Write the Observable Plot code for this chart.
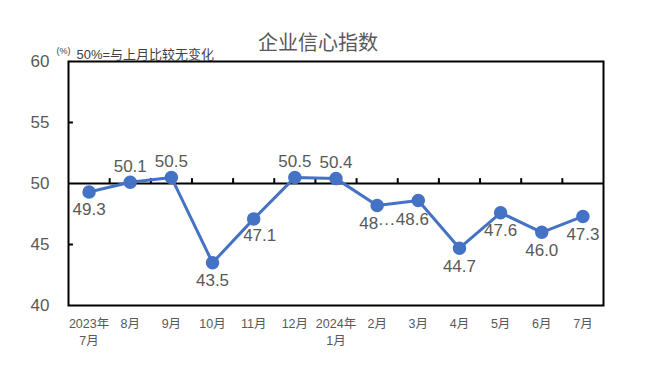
<!DOCTYPE html>
<html>
<head>
<meta charset="utf-8">
<script src="https://cdn.jsdelivr.net/npm/d3@7"></script>
<script src="https://cdn.jsdelivr.net/npm/@observablehq/plot@0.6"></script>
<style>
  html, body { margin: 0; padding: 0; background: #fff; }
</style>
</head>
<body>
<div id="chart"></div>
<script>
const months = ["2023年\n7月", "8月", "9月", "10月", "11月", "12月", "2024年\n1月", "2月", "3月", "4月", "5月", "6月", "7月"];
const values = [49.3, 50.1, 50.5, 43.5, 47.1, 50.5, 50.4, 48.2, 48.6, 44.7, 47.6, 46.0, 47.3];
const labels = ["49.3", "50.1", "50.5", "43.5", "47.1", "50.5", "50.4", "48···", "48.6", "44.7", "47.6", "46.0", "47.3"];
const labelSide = ["below", "above", "above", "below", "below-right", "above", "above", "below", "below-left", "below", "below", "below", "below"];
const yTicks = [40, 45, 50, 55, 60];
const title = "企业信心指数";
const unit = "(%)";
const note = "50%=与上月比较无变化";

const data = values.map((v, i) => ({i, v, label: labels[i], side: labelSide[i]}));
const boundaries = d3.range(0.5, months.length - 1, 1);

const gray = "#595959";
const blue = "#4472C4";
const font = "'Liberation Sans', 'Noto Sans CJK SC', sans-serif";

const bySide = s => data.filter(d => d.side === s);

const labelOpts = {x: "i", y: "v", text: "label", fontSize: 17, fill: gray};

const chart = Plot.plot({
  width: 666,
  height: 365,
  marginLeft: 68,
  marginRight: 63,
  marginTop: 61,
  marginBottom: 60,
  style: {fontFamily: font, background: "#fff", overflow: "visible"},
  x: {type: "linear", domain: [-0.5, months.length - 0.5]},
  y: {domain: [40, 60]},
  marks: [
    Plot.axisX(d3.range(months.length), {
      tickSize: 0, tickPadding: 10, tickFormat: i => months[i],
      fontSize: 12.5, fill: gray, lineHeight: 1.4, label: null
    }),
    Plot.axisY(yTicks, {
      tickSize: 0, tickPadding: 19, fontSize: 17, fill: gray, label: null
    }),
    Plot.ruleY([45, 55], {x1: -0.5, x2: -0.38, stroke: "black", strokeWidth: 2}),
    Plot.ruleY([50], {stroke: "black", strokeWidth: 2}),
    Plot.ruleX(boundaries, {y1: 50, y2: 50.4, stroke: "black", strokeWidth: 2}),
    Plot.frame({stroke: "black", strokeWidth: 2}),
    Plot.line(data, {x: "i", y: "v", stroke: blue, strokeWidth: 3}),
    Plot.dot(data, {x: "i", y: "v", r: 6, fill: blue, stroke: blue}),
    Plot.text(bySide("above"), {...labelOpts, dy: -16}),
    Plot.text(bySide("below"), {...labelOpts, dy: 18}),
    Plot.text(bySide("below-right"), {...labelOpts, dy: 17, dx: 6}),
    Plot.text(bySide("below-left"), {...labelOpts, dy: 19, dx: -6}),
    Plot.text([title], {frameAnchor: "top", dx: -18, dy: -26, fontSize: 20, fill: gray}),
    Plot.text([unit], {frameAnchor: "top-left", dx: -12, dy: -14, fontSize: 9, fill: "#404040"}),
    Plot.text([note], {frameAnchor: "top-left", textAnchor: "start", dx: 8, dy: -12, fontSize: 13, fill: "#404040"})
  ]
});

document.getElementById("chart").append(chart);
</script>
</body>
</html>
